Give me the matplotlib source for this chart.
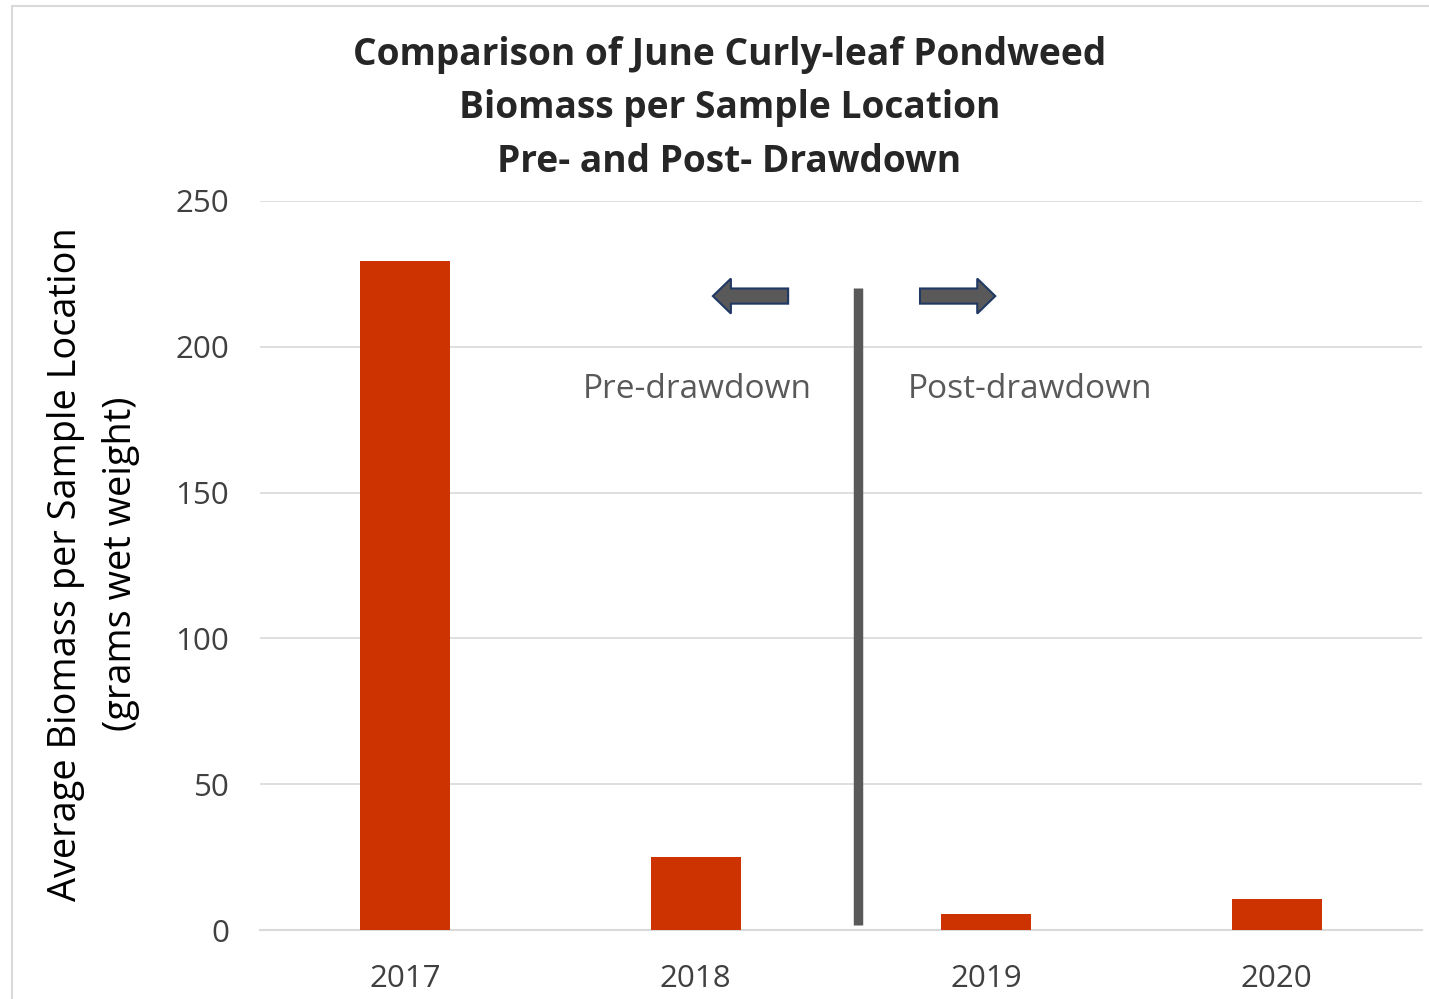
import matplotlib
matplotlib.use("Agg")
import matplotlib.pyplot as plt
from matplotlib.patches import Polygon, Rectangle

plt.rcParams['font.family'] = ['Open Sans', 'DejaVu Sans']

# Data
years = ["2017", "2018", "2019", "2020"]
biomass = [229.5, 25.0, 5.5, 10.5]
yticks = [0, 50, 100, 150, 200, 250]
title_lines = ["Comparison of June Curly-leaf Pondweed",
               "Biomass per Sample Location",
               "Pre- and Post- Drawdown"]
ylabel_lines = ["Average Biomass per Sample Location", "(grams wet weight)"]

BAR = "#CC3300"
GRAY = "#595959"
TICK = "#404040"

W, H = 1429, 999
fig = plt.figure(figsize=(W / 100, H / 100), dpi=100)
fig.patch.set_facecolor("white")

# chart frame
fig.patches.append(Rectangle((12 / W, -0.05), 1.2, (H - 6) / H + 0.05,
                             transform=fig.transFigure, fill=False,
                             edgecolor="#D9D9D9", linewidth=1.5, zorder=0))

ax = fig.add_axes([260 / W, 69 / H, 1162 / W, 729 / H])
x = list(range(len(years)))
ax.bar(x, biomass, width=0.31, color=BAR, zorder=3)
ax.set_xlim(-0.5, 3.5)
ax.set_ylim(0, 250)
ax.set_yticks(yticks)
ax.set_xticks(x)
ax.set_xticklabels(years)
ax.grid(axis="y", color="#D9D9D9", linewidth=1.2, zorder=0)
for s in ["top", "right", "left"]:
    ax.spines[s].set_visible(False)
ax.spines["bottom"].set_color("#D9D9D9")
ax.spines["bottom"].set_linewidth(1.5)
ax.tick_params(axis="both", length=0, labelsize=22.5, colors=TICK)
ax.tick_params(axis="y", pad=22)
ax.tick_params(axis="x", pad=24.5)

# drawdown divider
ax.plot([1.557, 1.557], [1.7, 220.2], color=GRAY, linewidth=6.8,
        solid_capstyle="butt", zorder=4)

# direction arrows
yc, bh, hh = 217.4, 2.6, 6.0
left_arrow = [(1.059, yc), (1.121, yc + hh), (1.121, yc + bh), (1.318, yc + bh),
              (1.318, yc - bh), (1.121, yc - bh), (1.121, yc - hh)]
right_arrow = [(2.031, yc), (1.969, yc + hh), (1.969, yc + bh), (1.772, yc + bh),
               (1.772, yc - bh), (1.969, yc - bh), (1.969, yc - hh)]
for pts in (left_arrow, right_arrow):
    ax.add_patch(Polygon(pts, closed=True, facecolor=GRAY, edgecolor="#1F3864",
                         linewidth=1.5, zorder=5))

ax.text(0.612, 185.5, "Pre-drawdown", fontsize=24, color=GRAY, ha="left", va="center")
ax.text(1.731, 185.5, "Post-drawdown", fontsize=24, color=GRAY, ha="left", va="center")

for line, yp in zip(title_lines, [55, 108, 162]):
    fig.text(729.5 / W, 1 - yp / H, line, ha="center", va="center",
             fontsize=26.7, fontweight="bold", color="#262626")

for line, xp in zip(ylabel_lines, [66, 121]):
    fig.text(xp / W, 1 - 564 / H, line, ha="center", va="center",
             rotation=90, fontsize=27.3, color="black")

fig.savefig("out.png", dpi=100, facecolor="white")
